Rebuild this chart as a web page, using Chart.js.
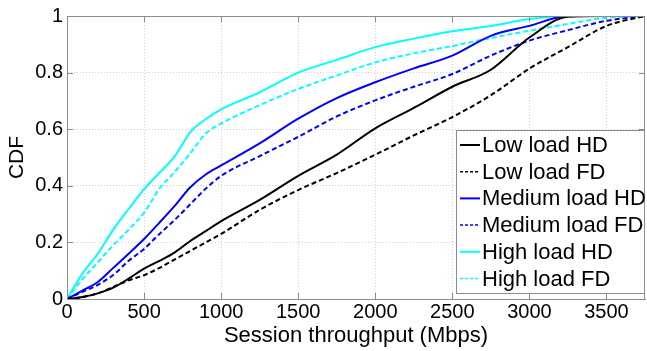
<!DOCTYPE html>
<html>
<head>
<meta charset="utf-8">
<script src="https://cdn.jsdelivr.net/npm/chart.js@4"></script>
<style>
  html, body { margin: 0; padding: 0; background: #fff; }
  canvas { display: block; }
</style>
</head>
<body>
<canvas id="cdf-chart" width="647" height="351"></canvas>
<script>
// throughput sample points (Mbps), shared by all curves
const throughput = [0, 100, 200, 300, 400, 500, 600, 700, 800, 900, 1000, 1250, 1500, 1750, 2000, 2250, 2500, 2750, 3000, 3250, 3500, 3750];

const lowHD    = [0, 0.007, 0.02, 0.04, 0.072, 0.107, 0.135, 0.165, 0.205, 0.24, 0.275, 0.35, 0.435, 0.51, 0.603, 0.675, 0.75, 0.81, 0.924, 0.997, 1, 1];
const lowFD    = [0, 0.007, 0.02, 0.043, 0.066, 0.084, 0.11, 0.14, 0.17, 0.2, 0.23, 0.315, 0.385, 0.445, 0.51, 0.578, 0.643, 0.72, 0.814, 0.89, 0.965, 1];
const mediumHD = [0, 0.03, 0.06, 0.11, 0.16, 0.212, 0.27, 0.33, 0.395, 0.44, 0.472, 0.55, 0.637, 0.71, 0.766, 0.815, 0.86, 0.93, 0.965, 1, 1, 1];
const mediumFD = [0, 0.025, 0.05, 0.085, 0.135, 0.177, 0.23, 0.28, 0.335, 0.39, 0.435, 0.505, 0.573, 0.645, 0.702, 0.75, 0.795, 0.86, 0.913, 0.95, 0.983, 1];
const highHD   = [0, 0.09, 0.16, 0.245, 0.318, 0.388, 0.446, 0.505, 0.59, 0.635, 0.67, 0.73, 0.8, 0.845, 0.89, 0.92, 0.946, 0.965, 0.989, 1, 1, 1];
const highFD   = [0, 0.07, 0.13, 0.19, 0.245, 0.305, 0.39, 0.45, 0.515, 0.585, 0.62, 0.685, 0.742, 0.79, 0.836, 0.868, 0.894, 0.922, 0.948, 0.972, 0.994, 1];

const xTicks = [0, 500, 1000, 1500, 2000, 2500, 3000, 3500];
const yTicks = [0, 0.2, 0.4, 0.6, 0.8, 1];

const seriesNames = ['Low load HD', 'Low load FD', 'Medium load HD', 'Medium load FD', 'High load HD', 'High load FD'];
const seriesValues = [lowHD, lowFD, mediumHD, mediumFD, highHD, highFD];
const seriesColors = ['#000000', '#000000', '#0000ff', '#0000ff', '#00ffff', '#00ffff'];
const seriesDashed = [false, true, false, true, false, true];

const FONT = 'Liberation Sans, Arial, sans-serif';
const DASH = [5, 3];

const datasets = seriesNames.map((name, k) => ({
    label: name,
    data: throughput.map((x, i) => ({x: x, y: seriesValues[k][i]})),
    borderColor: seriesColors[k],
    borderWidth: 2,
    borderDash: seriesDashed[k] ? DASH : [],
    pointRadius: 0,
    cubicInterpolationMode: 'monotone',
    fill: false
}));

// box around the plot plus a legend drawn inside the plot area
const frameAndLegend = {
    id: 'frameAndLegend',
    afterDatasetsDraw(chart) {
        const c = chart.ctx;
        const a = chart.chartArea;
        c.save();
        c.strokeStyle = '#8c8c8c';
        c.lineWidth = 1;
        c.setLineDash([]);
        c.strokeRect(a.left + 0.5, a.top + 0.5, a.right - a.left - 1, a.bottom - a.top);

        // small inward ticks like the original axes
        const xs = chart.scales.x, ys = chart.scales.y;
        c.beginPath();
        xTicks.forEach(v => {
            const px = Math.round(xs.getPixelForValue(v)) + 0.5;
            c.moveTo(px, a.bottom); c.lineTo(px, a.bottom - 6);
            c.moveTo(px, a.top); c.lineTo(px, a.top + 6);
        });
        yTicks.forEach(v => {
            const py = Math.round(ys.getPixelForValue(v)) + 0.5;
            c.moveTo(a.left, py); c.lineTo(a.left + 6, py);
            c.moveTo(a.right, py); c.lineTo(a.right - 6, py);
        });
        c.stroke();

        // legend box
        const bx = 456, by = 130, bw = a.right - 456, bh = 163;
        c.fillStyle = '#fff';
        c.fillRect(bx, by, bw, bh);
        c.strokeStyle = '#8c8c8c';
        c.strokeRect(bx + 0.5, by + 0.5, bw - 1, bh);
        c.font = '22px ' + FONT;
        c.textBaseline = 'middle';
        chart.data.datasets.forEach((ds, i) => {
            const y = by + 15 + i * 26.7;
            c.strokeStyle = ds.borderColor;
            c.lineWidth = ds.borderDash.length ? 1.5 : 2;
            c.setLineDash(ds.borderDash.length ? [3, 2] : []);
            c.beginPath();
            c.moveTo(bx + 4, y);
            c.lineTo(bx + 24, y);
            c.stroke();
            c.fillStyle = '#000';
            c.fillText(ds.label, bx + 26, y + 1);
        });
        c.restore();
    }
};

const chart = new Chart(document.getElementById('cdf-chart').getContext('2d'), {
    type: 'line',
    data: { datasets: datasets },
    options: {
        responsive: false,
        animation: false,
        layout: { padding: { left: 0, right: 2, top: 13, bottom: 0 } },
        plugins: {
            legend: { display: false },
            tooltip: { enabled: false }
        },
        scales: {
            x: {
                type: 'linear',
                min: 0,
                max: 3750,
                afterFit: s => { s.height = 52; },
                afterBuildTicks: s => { s.ticks = xTicks.map(v => ({value: v})); },
                ticks: {
                    maxRotation: 0,
                    autoSkip: false,
                    padding: 1,
                    color: '#000',
                    font: { family: FONT, size: 20 },
                    callback: v => String(v)
                },
                grid: { color: '#cfcfcf', drawTicks: false, lineWidth: 1 },
                border: { color: '#8c8c8c', dash: [1, 2] },
                title: {
                    display: true,
                    text: 'Session throughput (Mbps)',
                    color: '#000',
                    font: { family: FONT, size: 22 },
                    padding: { top: 0, bottom: 2 }
                }
            },
            y: {
                min: 0,
                max: 1,
                afterFit: s => { s.width = 67; },
                afterBuildTicks: s => { s.ticks = yTicks.map(v => ({value: v})); },
                ticks: {
                    padding: 4,
                    color: '#000',
                    font: { family: FONT, size: 20 },
                    callback: v => String(Math.round(v * 10) / 10)
                },
                grid: { color: '#cfcfcf', drawTicks: false, lineWidth: 1 },
                border: { color: '#8c8c8c', dash: [1, 2] },
                title: {
                    display: true,
                    text: 'CDF',
                    color: '#000',
                    font: { family: FONT, size: 21 },
                    padding: { top: 5, bottom: 0 }
                }
            }
        }
    },
    plugins: [frameAndLegend]
});
</script>
</body>
</html>
